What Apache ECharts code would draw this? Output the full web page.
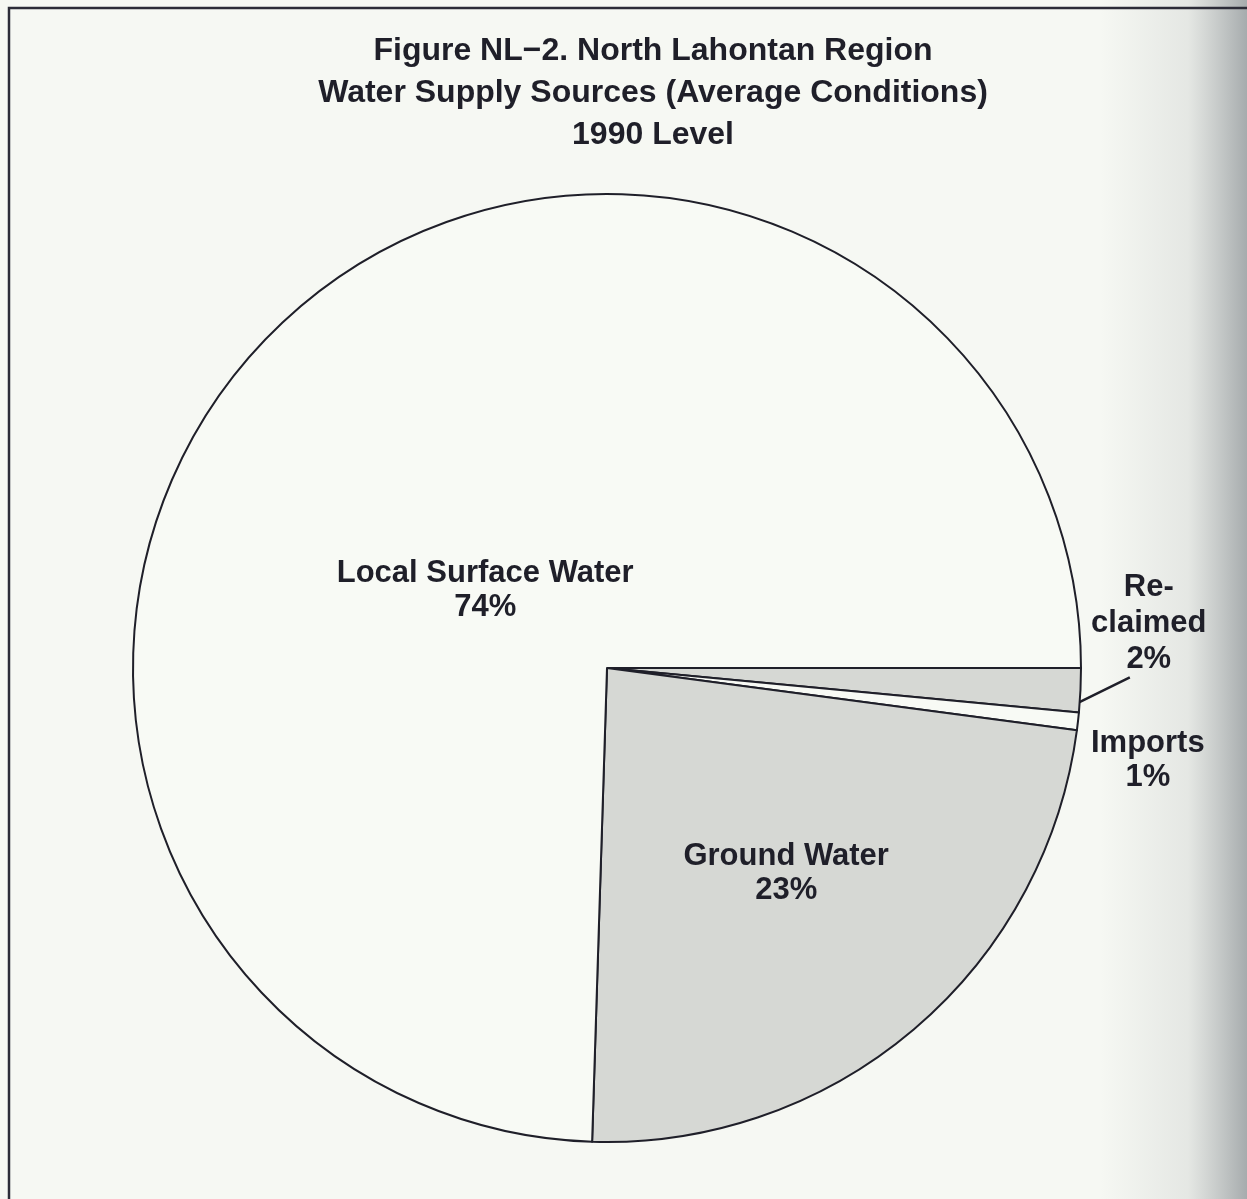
<!DOCTYPE html>
<html>
<head>
  <meta charset="utf-8">
  <title>North Lahontan Region Water Supply Sources</title>
  <script src="https://cdn.jsdelivr.net/npm/echarts@6/dist/echarts.min.js"></script>
  <style>
    html, body { margin: 0; padding: 0; background: #f6f8f3; }
    #chart { width: 1247px; height: 1199px; }
  </style>
</head>
<body>
  <div id="chart"></div>
  <script>
    // slices in drawing order, clockwise from 3 o'clock
    const sources = ['Reclaimed', 'Imports', 'Ground Water', 'Local Surface Water'];
    // share of the circle as drawn (percent)
    const shares = [1.5, 0.6, 23.4, 74.5];
    // percentages printed on the chart
    const printed = ['2%', '1%', '23%', '74%'];
    const labelText = ['Re-\nclaimed', 'Imports', 'Ground Water', 'Local Surface Water'];
    const fills = ['#d6d8d4', '#f8faf5', '#d6d8d4', '#f8faf5'];

    const CX = 607, CY = 668, R = 474;
    // label anchor, in radii from the pie centre
    const labelSpot = [[1.143, -0.095], [1.141, 0.194], [0.378, 0.433], [-0.257, -0.163]];

    const ink = '#1f1f29';
    const myChart = echarts.init(document.getElementById('chart'));

    const data = sources.map(function (name, i) {
      const outside = i < 2;
      return {
        name: name,
        value: shares[i],
        itemStyle: { color: fills[i] },
        label: { position: outside ? 'outside' : 'inside', lineHeight: i === 0 ? 36 : 34 },
        labelLine: { show: i === 0 }
      };
    });

    const option = {
      backgroundColor: '#f6f8f3',
      animation: false,
      title: {
        text: 'Figure NL\u22122. North Lahontan Region\nWater Supply Sources (Average Conditions)\n1990 Level',
        left: 648,
        top: 25,
        textAlign: 'center',
        textStyle: {
          fontFamily: 'Liberation Sans',
          fontWeight: 'bold',
          fontSize: 32,
          lineHeight: 42,
          color: ink
        }
      },
      graphic: [
        {
          type: 'rect',
          z: -10,
          silent: true,
          shape: { x: 1100, y: 0, width: 147, height: 1199 },
          style: {
            fill: new echarts.graphic.LinearGradient(0, 0, 1, 0, [
              { offset: 0, color: 'rgba(150,155,158,0)' },
              { offset: 0.6, color: 'rgba(150,155,158,0.18)' },
              { offset: 1, color: 'rgba(140,146,150,0.75)' }
            ])
          }
        },
        {
          type: 'polyline',
          silent: true,
          shape: { points: [[9, 1199], [9, 8], [1247, 8]] },
          style: { stroke: '#2c2c38', lineWidth: 2.5, fill: null }
        }
      ],
      series: [
        {
          type: 'pie',
          center: [CX, CY],
          radius: R,
          startAngle: 0,
          clockwise: true,
          avoidLabelOverlap: false,
          silent: true,
          itemStyle: { borderColor: ink, borderWidth: 2 },
          emphasis: { disabled: true },
          label: {
            formatter: function (p) {
              return labelText[p.dataIndex] + '\n' + printed[p.dataIndex];
            },
            fontFamily: 'Liberation Sans',
            fontWeight: 'bold',
            fontSize: 31,
            lineHeight: 34,
            color: ink,
            align: 'center'
          },
          labelLine: {
            lineStyle: { color: ink, width: 2.5 }
          },
          labelLayout: function (p) {
            const s = labelSpot[p.dataIndex];
            const out = {
              x: CX + s[0] * R,
              y: CY + s[1] * R,
              align: 'center',
              verticalAlign: 'middle'
            };
            if (p.dataIndex === 0) {
              out.labelLinePoints = [[CX + 0.985 * R, CY + 0.078 * R], [CX + 1.044 * R, CY + 0.049 * R], [CX + 1.103 * R, CY + 0.02 * R]];
            }
            return out;
          },
          data: data
        }
      ]
    };
    myChart.setOption(option);
  </script>
</body>
</html>
